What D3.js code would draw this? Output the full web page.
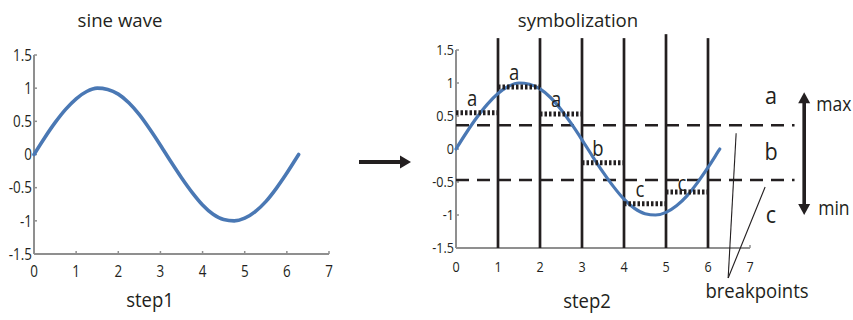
<!DOCTYPE html>
<html>
<head>
<meta charset="utf-8">
<script src="https://cdn.jsdelivr.net/npm/d3@7/dist/d3.min.js"></script>
<style>
  html, body { margin: 0; padding: 0; background: #fff; }
  svg { display: block; }
  text { font-family: "Open Sans", "Noto Sans", sans-serif; fill: #231f20; }
</style>
</head>
<body>
<svg id="chart" width="853" height="320"></svg>
<script>
// Sampled sine wave, one point every quarter unit
const waveX = [0, 0.25, 0.5, 0.75, 1, 1.25, 1.5, 1.75, 2, 2.25, 2.5, 2.75, 3, 3.25,
               3.5, 3.75, 4, 4.25, 4.5, 4.75, 5, 5.25, 5.5, 5.75, 6, 6.25, 6.28];
const waveY = [0, 0.25, 0.48, 0.68, 0.84, 0.95, 1.0, 0.98, 0.91, 0.78, 0.6, 0.38, 0.14, -0.11,
               -0.35, -0.57, -0.76, -0.9, -0.98, -1.0, -0.96, -0.86, -0.71, -0.51, -0.28, -0.03, 0];

// Axis ticks
const xTicks = [0, 1, 2, 3, 4, 5, 6, 7];
const yTicks = [1.5, 1, 0.5, 0, -0.5, -1, -1.5];
const yTickLabels = ["1.5", "1", "0.5", "0", "-0.5", "-1", "-1.5"];

// Segment means (PAA) per unit interval and their symbols
const segStart = [0, 1, 2, 3, 4, 5];
const segEnd   = [1, 2, 3, 4, 5, 6];
const segMean  = [0.55, 0.94, 0.53, -0.21, -0.83, -0.65];
const segSymbol = ["a", "a", "a", "b", "c", "c"];

// Segment boundaries and breakpoints
const cuts = [1, 2, 3, 4, 5, 6];
const breakpoints = [0.36, -0.47];
const regionSymbols = ["a", "b", "c"];
const regionCenters = [0.8, -0.05, -1.0];

const svg = d3.select("#chart");
const blue = "#4a78b4";
const axisGray = "#8f8f8f";
const ink = "#231f20";

const waveData = waveX.map((x, i) => ({ x, y: waveY[i] }));

// Text with a slight horizontal condensing
function label(g, x, y, str, fs, anchor = "start", sx = 0.9) {
  return g.append("text")
    .attr("transform", `translate(${x},${y}) scale(${sx},1)`)
    .attr("text-anchor", anchor).attr("font-size", fs).text(str);
}

function drawAxes(g, x, y, opts) {
  const [x0, x1] = x.range();
  const [yb, yt] = y.range();
  g.append("line").attr("x1", x0).attr("x2", x1).attr("y1", yb).attr("y2", yb)
    .attr("stroke", axisGray).attr("stroke-width", 2);
  g.append("line").attr("x1", x0).attr("x2", x0).attr("y1", yb).attr("y2", yt)
    .attr("stroke", axisGray).attr("stroke-width", 2);
  g.selectAll(".xt").data(xTicks.slice(1)).join("line")
    .attr("x1", d => x(d)).attr("x2", d => x(d))
    .attr("y1", yb).attr("y2", yb - 3)
    .attr("stroke", axisGray).attr("stroke-width", 1.5);
  g.selectAll(".yt").data(yTicks).join("line")
    .attr("x1", x0).attr("x2", x0 + 3)
    .attr("y1", d => y(d)).attr("y2", d => y(d))
    .attr("stroke", axisGray).attr("stroke-width", 1.5);
  g.selectAll(".xl").data(xTicks).join("text")
    .attr("transform", d => `translate(${x(d)},${yb + opts.xLabelDy}) scale(${opts.sx},1)`)
    .attr("text-anchor", "middle").attr("font-size", opts.fs)
    .text(d => d);
  g.selectAll(".yl").data(yTicks).join("text")
    .attr("transform", d => `translate(${x0 - 2},${y(d) + opts.fs * 0.36}) scale(${opts.sx},1)`)
    .attr("text-anchor", "end").attr("font-size", opts.fs)
    .text((d, i) => yTickLabels[i]);
}

// ---------- Left panel: sine wave ----------
{
  const x = d3.scaleLinear().domain([0, 7]).range([34, 329]);
  const y = d3.scaleLinear().domain([-1.5, 1.5]).range([254, 55]);
  const g = svg.append("g");
  drawAxes(g, x, y, { fs: 16, sx: 0.84, xLabelDy: 23 });

  const line = d3.line().x(d => x(d.x)).y(d => y(d.y)).curve(d3.curveMonotoneX);
  g.append("path").datum(waveData).attr("d", line)
    .attr("fill", "none").attr("stroke", blue).attr("stroke-width", 3.6)
    .attr("stroke-linecap", "round");

  label(g, 120, 27, "sine wave", 19, "middle", 0.98);
  label(g, 150, 307, "step1", 19.5, "middle", 0.95);
}

// ---------- Arrow between panels ----------
{
  const g = svg.append("g");
  g.append("line").attr("x1", 359).attr("x2", 402).attr("y1", 162).attr("y2", 162)
    .attr("stroke", ink).attr("stroke-width", 4);
  g.append("path").attr("d", "M400,155.5 L411,162 L400,168.5 Z").attr("fill", ink);
}

// ---------- Right panel: symbolization ----------
{
  const x = d3.scaleLinear().domain([0, 7]).range([456, 750]);
  const y = d3.scaleLinear().domain([-1.5, 1.5]).range([248, 50]);
  const g = svg.append("g");
  drawAxes(g, x, y, { fs: 15, sx: 0.84, xLabelDy: 24 });

  // segment boundaries
  g.selectAll(".cut").data(cuts).join("line")
    .attr("x1", d => x(d)).attr("x2", d => x(d))
    .attr("y1", y(-1.5)).attr("y2", d => y(d === 5 ? 1.74 : 1.68))
    .attr("stroke", ink).attr("stroke-width", 2.7);

  // breakpoints
  g.selectAll(".bp").data(breakpoints).join("line")
    .attr("x1", x(0)).attr("x2", x(8.06))
    .attr("y1", d => y(d)).attr("y2", d => y(d))
    .attr("stroke", ink).attr("stroke-width", 2.7)
    .attr("stroke-dasharray", "13,8");

  // sine
  const line = d3.line().x(d => x(d.x)).y(d => y(d.y)).curve(d3.curveMonotoneX);
  g.append("path").datum(waveData).attr("d", line)
    .attr("fill", "none").attr("stroke", blue).attr("stroke-width", 3.2)
    .attr("stroke-linecap", "round");

  // segment means
  g.selectAll(".seg").data(segMean).join("line")
    .attr("x1", (d, i) => x(segStart[i])).attr("x2", (d, i) => x(segEnd[i]))
    .attr("y1", d => y(d)).attr("y2", d => y(d))
    .attr("stroke", ink).attr("stroke-width", 5)
    .attr("stroke-dasharray", "2.5,2");

  // segment symbols
  g.selectAll(".sym").data(segMean).join("text")
    .attr("transform", (d, i) =>
      `translate(${x((segStart[i] + segEnd[i]) / 2) - 5},${y(d) - (i === 5 ? 1 : 7)}) scale(0.88,1)`)
    .attr("text-anchor", "middle").attr("font-size", 21)
    .text((d, i) => segSymbol[i]);

  // region symbols
  g.selectAll(".reg").data(regionCenters).join("text")
    .attr("transform", d => `translate(${x(7.5)},${y(d) + 8}) scale(0.9,1)`)
    .attr("text-anchor", "middle").attr("font-size", 24)
    .text((d, i) => regionSymbols[i]);

  // max/min double arrow
  const ax = x(8.29), yTop = y(0.86), yBot = y(-1.0);
  g.append("line").attr("x1", ax).attr("x2", ax).attr("y1", yTop + 8).attr("y2", yBot - 8)
    .attr("stroke", ink).attr("stroke-width", 3.6);
  g.append("path").attr("d", `M${ax - 6},${yTop + 11} L${ax},${yTop} L${ax + 6},${yTop + 11} Z`).attr("fill", ink);
  g.append("path").attr("d", `M${ax - 6},${yBot - 11} L${ax},${yBot} L${ax + 6},${yBot - 11} Z`).attr("fill", ink);
  label(g, ax + 12, y(0.58), "max", 19.5, "start", 0.9);
  label(g, ax + 14, y(-1.0), "min", 19.5, "start", 0.9);

  // breakpoint callout
  const px = x(6.48), py = 278;
  g.append("line").attr("x1", px).attr("y1", py).attr("x2", x(6.67)).attr("y2", y(breakpoints[0]) + 8)
    .attr("stroke", ink).attr("stroke-width", 1.1);
  g.append("line").attr("x1", px).attr("y1", py).attr("x2", x(7.36)).attr("y2", y(breakpoints[1]) + 7)
    .attr("stroke", ink).attr("stroke-width", 1.1);
  label(g, 757, 298, "breakpoints", 19.5, "middle", 0.95);

  label(g, 578, 27, "symbolization", 19, "middle", 0.98);
  label(g, 587, 308, "step2", 19.5, "middle", 0.95);
}
</script>
</body>
</html>
